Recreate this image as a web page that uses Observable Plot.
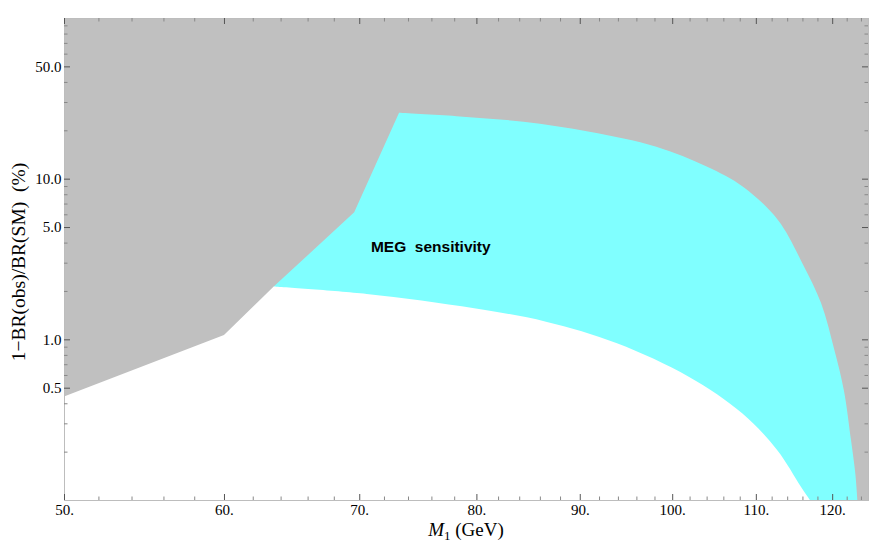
<!DOCTYPE html>
<html><head><meta charset="utf-8">
<script src="https://cdn.jsdelivr.net/npm/d3@7"></script>
<script src="https://cdn.jsdelivr.net/npm/@observablehq/plot@0.6"></script>
<style>body{margin:0;background:#fff}</style>
</head><body><div id="chart"></div>
<script>
// Scales / ticks
const xDomain = [50, 125];
const yDomain = [0.1, 100];
const xMajorTicks = [50, 60, 70, 80, 90, 100, 110, 120];
const xMinorTicks = [52, 54, 56, 58, 62, 64, 66, 68, 72, 74, 76, 78, 82, 84, 86, 88, 92, 94, 96, 98, 102, 104, 106, 108, 112, 114, 116, 118, 122, 124];
const yMajorTicks = [0.5, 1, 5, 10, 50];
const yMinorTicks = [0.2, 0.3, 0.4, 0.6, 0.7, 0.8, 0.9, 2, 3, 4, 6, 7, 8, 9, 20, 30, 40, 60, 70, 80, 90];
const xTickLabels = ["50.", "60.", "70.", "80.", "90.", "100.", "110.", "120."];
const yTickLabels = ["0.5", "1.0", "5.0", "10.0", "50.0"];

// Excluded (gray) region: lower-left kinked boundary
const exclusionX = [50, 60, 63.5, 69.6, 73.25];
const exclusionY = [0.44, 1.064, 2.13, 6.17, 25.7];
// MEG sensitivity band: upper edge
const megUpperX = [73.25, 78.2, 84.4, 91.0, 98.2, 104.0, 108.4, 112.8, 116.0, 118.5, 120.3, 121.6, 122.6, 123.2, 123.5];
const megUpperY = [25.7, 24.5, 22.6, 19.6, 15.8, 11.9, 8.91, 5.53, 2.97, 1.676, 0.858, 0.484, 0.236, 0.1466, 0.1];
// MEG sensitivity band: lower edge
const megLowerX = [63.5, 70.6, 79.8, 86.6, 93.9, 101.9, 108.3, 112.7, 115.8, 117.0];
const megLowerY = [2.13, 1.915, 1.56, 1.287, 0.945, 0.585, 0.3465, 0.2048, 0.121, 0.1];

const annotation = [{x: 75.9, y: 3.77, text: "MEG  sensitivity"}];

const grayColor = "#c0c0c0";
const cyanColor = "#80ffff";

// curve: linear, except smooth (centripetal Catmull-Rom) between point indices a..b
function piecewiseCurve(a, b) {
  return function(context) {
    let line = 0, pts = [];
    const proxy = {
      moveTo: (x, y) => context.lineTo(x, y),
      lineTo: (x, y) => context.lineTo(x, y),
      bezierCurveTo: (a1, a2, a3, a4, a5, a6) => context.bezierCurveTo(a1, a2, a3, a4, a5, a6),
      closePath() {}
    };
    function draw(p, lo, hi, first) {
      const n = p.length;
      if (first) context.moveTo(p[0][0], p[0][1]); else context.lineTo(p[0][0], p[0][1]);
      for (let i = 1; i <= lo; i++) context.lineTo(p[i][0], p[i][1]);
      if (hi > lo) {
        const m = d3.curveCatmullRom.alpha(0.5)(proxy);
        m.lineStart();
        for (let i = lo; i <= hi; i++) m.point(p[i][0], p[i][1]);
        m.lineEnd();
      }
      for (let i = Math.max(hi, lo) + 1; i < n; i++) context.lineTo(p[i][0], p[i][1]);
    }
    return {
      areaStart() { line = 0; },
      areaEnd() { line = NaN; },
      lineStart() { pts = []; },
      point(x, y) { pts.push([+x, +y]); },
      lineEnd() {
        const n = pts.length;
        if (!n) return;
        const lo = Math.max(0, Math.min(a, n - 1)), hi = Math.max(0, Math.min(b, n - 1));
        if (line === 0) {
          draw(pts, lo, hi, true);
          line = 1;
        } else {
          // second (reversed) line of an area
          draw(pts, n - 1 - hi, n - 1 - lo, false);
          context.closePath();
        }
      }
    };
  };
}

// Cyan band region (below the exclusion line / band upper edge, from the band's left corner on)
const cyanPts = [
  ...exclusionX.slice(2).map((x, i) => ({x, y: exclusionY[i + 2]})),
  ...megUpperX.slice(1).map((x, i) => ({x, y: megUpperY[i + 1]})),
  {x: xDomain[1], y: yDomain[0]}
];
const cyanCurve = piecewiseCurve(exclusionX.length - 3, exclusionX.length - 3 + megUpperX.length - 1);

// White region (below the band and below the exclusion line)
const whitePts = [
  ...exclusionX.slice(0, 2).map((x, i) => ({x, y: exclusionY[i]})),
  ...megLowerX.map((x, i) => ({x, y: megLowerY[i]}))
];
const whiteCurve = piecewiseCurve(2, whitePts.length - 1);

const W = 872, H = 545, mL = 64, mR = 4, mT = 18, mB = 45;
const pw = W - mL - mR, ph = H - mT - mB;
const majorLen = 6, minorLen = 3.5;
const majorTick = "#555", minorTick = "#888";
const serif = "'Liberation Serif', 'Times New Roman', serif";

const chart = Plot.plot({
  width: W, height: H,
  marginLeft: mL, marginRight: mR, marginTop: mT, marginBottom: mB,
  style: {fontFamily: serif, fontSize: "15px", background: "white", color: "black"},
  x: {type: "log", domain: xDomain, axis: null},
  y: {type: "log", domain: yDomain, axis: null},
  marks: [
    Plot.frame({fill: grayColor, stroke: null}),
    Plot.areaY(cyanPts, {x: "x", y1: yDomain[0], y2: "y", fill: cyanColor, curve: cyanCurve}),
    Plot.areaY(whitePts, {x: "x", y1: yDomain[0], y2: "y", fill: "white", curve: whiteCurve}),
    Plot.frame({stroke: "#bdbdbd", strokeWidth: 1}),
    // bottom ticks (inward)
    Plot.tickX(xMajorTicks, {x: d => d, insetTop: ph - majorLen, stroke: majorTick, strokeWidth: 1}),
    Plot.tickX(xMinorTicks, {x: d => d, insetTop: ph - minorLen, stroke: minorTick, strokeWidth: 1}),
    // top ticks
    Plot.tickX(xMajorTicks, {x: d => d, insetBottom: ph - majorLen, stroke: majorTick, strokeWidth: 1}),
    Plot.tickX(xMinorTicks, {x: d => d, insetBottom: ph - minorLen, stroke: minorTick, strokeWidth: 1}),
    // left ticks
    Plot.tickY(yMajorTicks, {y: d => d, insetRight: pw - majorLen, stroke: majorTick, strokeWidth: 1}),
    Plot.tickY(yMinorTicks, {y: d => d, insetRight: pw - minorLen, stroke: minorTick, strokeWidth: 1}),
    // right ticks
    Plot.tickY(yMajorTicks, {y: d => d, insetLeft: pw - majorLen, stroke: majorTick, strokeWidth: 1}),
    Plot.tickY(yMinorTicks, {y: d => d, insetLeft: pw - minorLen, stroke: minorTick, strokeWidth: 1}),
    // tick labels
    Plot.text(xMajorTicks, {x: d => d, text: (d, i) => xTickLabels[i], frameAnchor: "bottom",
      lineAnchor: "top", dy: 4, fill: "black"}),
    Plot.text(yMajorTicks, {y: d => d, text: (d, i) => yTickLabels[i], frameAnchor: "left",
      textAnchor: "end", dx: -3, fill: "black"}),
    Plot.text(annotation, {x: "x", y: "y", text: "text", fontFamily: "'Liberation Sans', Arial, sans-serif",
      fontWeight: "bold", fontSize: 15.5, fill: "black"})
  ]
});

const svg = d3.select(chart);
svg.selectAll("text").attr("xml:space", "preserve").style("white-space", "pre");
// x-axis label
const xl = svg.append("text")
  .attr("x", mL + pw / 2).attr("y", 536)
  .attr("text-anchor", "middle")
  .style("font-family", serif)
  .style("font-size", "19px").attr("fill", "black");
xl.append("tspan").style("font-style", "italic").text("M");
xl.append("tspan").attr("dy", 4).style("font-size", "13px").text("1");
xl.append("tspan").attr("dy", -4).text(" (GeV)");
// y-axis label
svg.append("text")
  .attr("transform", `translate(25, ${mT + ph / 2 + 3}) rotate(-90)`)
  .attr("text-anchor", "middle")
  .attr("xml:space", "preserve")
  .style("white-space", "pre")
  .style("font-family", serif)
  .style("font-size", "19.5px").attr("fill", "black")
  .text("1\u2212BR(obs)/BR(SM)  (%)");

document.getElementById("chart").appendChild(chart);
</script>
</body></html>
